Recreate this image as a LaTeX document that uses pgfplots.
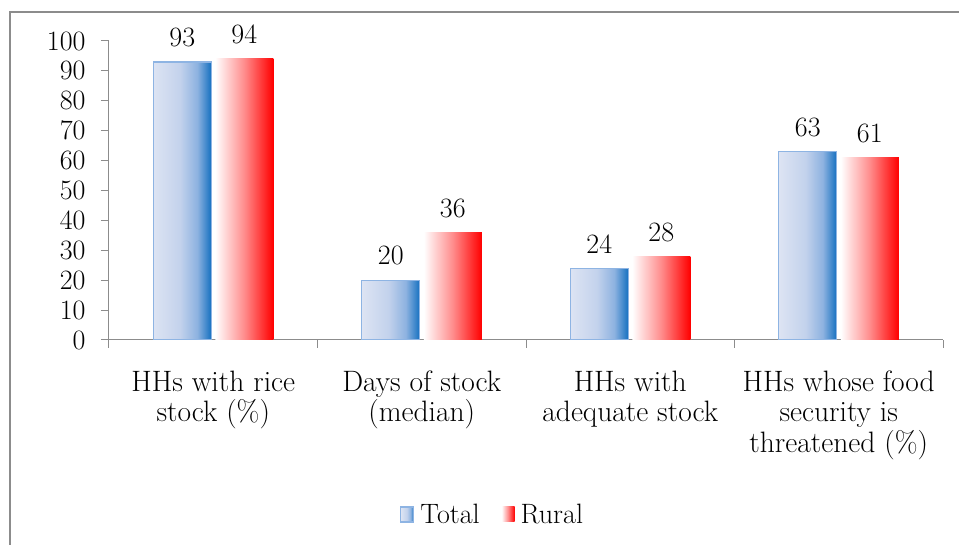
\documentclass[border=0pt]{standalone}
\usepackage{pgfplots}
\pgfplotsset{compat=1.18}
\definecolor{axgray}{HTML}{8C8C8C}
\definecolor{tA}{HTML}{DDE4F3}
\definecolor{tB}{HTML}{C3D2EC}
\definecolor{tC}{HTML}{8DB2E0}
\definecolor{tD}{HTML}{1570C0}
\definecolor{tEdge}{HTML}{8EB4E3}
\definecolor{rB}{HTML}{FF8C8C}
\pgfdeclarehorizontalshading{totalshade}{100bp}{color(0bp)=(tA); color(25bp)=(tA); color(48bp)=(tB); color(63bp)=(tC); color(75bp)=(tD); color(100bp)=(tD)}
\pgfdeclarehorizontalshading{ruralshade}{100bp}{color(0bp)=(white); color(25bp)=(white); color(50bp)=(rB); color(75bp)=(red); color(100bp)=(red)}
\newcommand{\bigf}{\fontsize{28}{30}\selectfont}
\newcommand{\catf}{\fontsize{29.5}{30.5}\selectfont}
\pgfplotsset{
  totalbar/.style={bar shift=-31pt, shading=totalshade, draw=tEdge, line width=1.2pt},
  ruralbar/.style={bar shift=31pt, shading=ruralshade, draw=none},
}
\begin{document}
\begin{tikzpicture}
\useasboundingbox (0,0) rectangle (959pt,545pt);
\clip (0,0) rectangle (959pt,545pt);
\draw[axgray, line width=1.5pt] (10pt,-5pt) -- (10pt,533pt) -- (970pt,533pt);
\begin{axis}[
  at={(109pt,205pt)}, anchor=south west,
  scale only axis, width=834pt, height=299pt,
  xmin=-0.5, xmax=3.5, ymin=0, ymax=100,
  axis lines*=left,
  axis line style={axgray, line width=1pt},
  ybar, bar width=58pt,
  xtick={0,1,2,3},
  xticklabels={{HHs with rice\\stock (\%)},{Days of stock\\(median)},{HHs with\\adequate stock},{HHs whose food\\security is\\threatened (\%)}},
  minor xtick={-0.5,0.5,1.5,2.5,3.5},
  every major x tick/.append style={draw=none},
  every minor x tick/.append style={draw=axgray, line width=1pt},
  minor tick length=8pt, major tick length=8pt,
  ytick={0,10,...,100},
  ytick style={draw=axgray, line width=1pt},
  tick align=outside,
  /pgf/number format/assume math mode=true,
  yticklabel style={font=\bigf, xshift=-12pt},
  xticklabel style={font=\catf, align=center, yshift=-19pt},
  nodes near coords,
  every node near coord/.append style={font=\bigf, black, yshift=11pt},
  legend style={at={(0.46,-0.585)}, anchor=center, draw=none, font=\bigf, legend columns=2,
    /tikz/every odd column/.append style={column sep=4pt},
    /tikz/every even column/.append style={column sep=20pt}},
  legend image code/.code={\path[#1] (0pt,-7pt) rectangle (13pt,8pt);},
]
\addplot[totalbar] coordinates {(0,93)};
\addplot[ruralbar] coordinates {(0,94)};
\addplot[totalbar, forget plot] coordinates {(1,20)};
\addplot[totalbar, forget plot] coordinates {(2,24)};
\addplot[totalbar, forget plot] coordinates {(3,63)};
\addplot[ruralbar, forget plot] coordinates {(1,36)};
\addplot[ruralbar, forget plot] coordinates {(2,28)};
\addplot[ruralbar, forget plot] coordinates {(3,61)};
\legend{Total, Rural}
\end{axis}
\end{tikzpicture}
\end{document}
